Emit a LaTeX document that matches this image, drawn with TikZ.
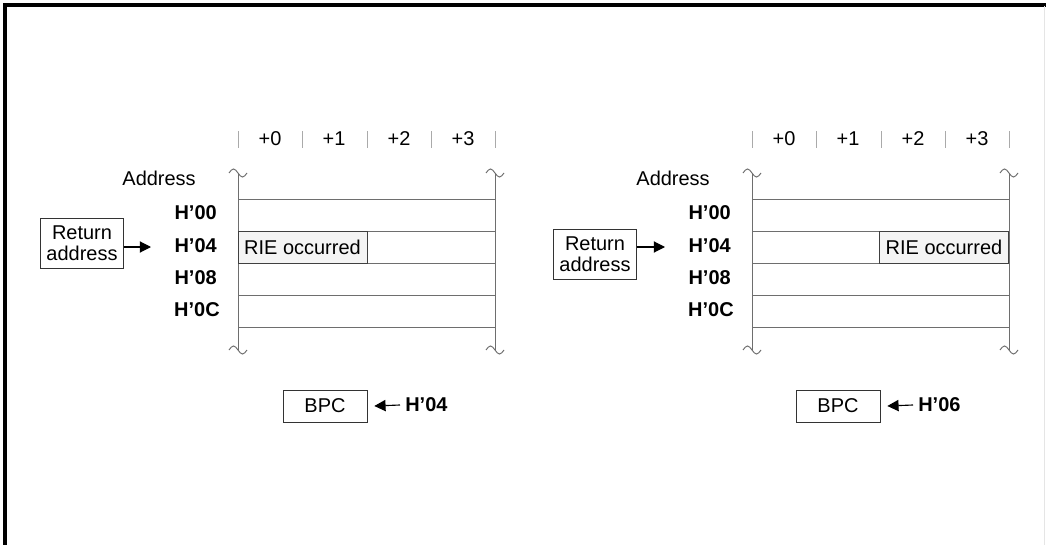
\documentclass[tikz,border=0pt]{standalone}
\usepackage{fontspec}
\setmainfont{Liberation Sans}
\usetikzlibrary{positioning,arrows.meta}
\definecolor{memline}{RGB}{110,110,110}
\definecolor{memtick}{RGB}{170,170,170}
\definecolor{riefill}{RGB}{244,244,244}

\begin{document}
\begin{tikzpicture}[
  x=0.025cm, y=-0.025cm,
  font=\fontsize{14.2pt}{15pt}\selectfont,
  addr/.style={anchor=east, inner sep=0pt, font=\fontsize{14.2pt}{15pt}\selectfont\bfseries},
  riebox/.style={draw=black!75, fill=riefill, minimum width=3.225cm, minimum height=0.8cm, inner sep=0pt},
  retbox/.style={draw=black!80, align=center, minimum width=2.075cm, minimum height=1.25cm, inner sep=1pt},
  bpcbox/.style={draw=black!80, minimum width=2.1cm, minimum height=0.8cm, inner sep=0pt},
  ptr/.style={-{Triangle[length=8pt,width=8pt]}, line width=0.8pt},
  memtilde/.pic={\draw[memline, line width=0.7pt] (-9,0) sin (-4.5,-4) cos (0,0) sin (4.5,4) cos (9,0);},
]
\useasboundingbox (0,0) rectangle (1046,545);
% frame
\draw[line width=2.2pt] (5,545) -- (5,5) -- (1046,5);
\draw[black!10, line width=0.6pt] (1044,6) -- (1044,545);

% memory columns
\foreach \ox in {0,514} {
  \begin{scope}[xshift=\ox*0.025cm]
    \foreach \tx in {238,302,367,431,495}
      \draw[memtick, line width=0.7pt] (\tx,131) -- (\tx,148);
    \node at (270,139) {+0};
    \node at (334,139) {+1};
    \node at (399,139) {+2};
    \node at (463,139) {+3};
    \foreach \hy in {199,231,263,295,327}
      \draw[memline, line width=0.7pt] (238,\hy) -- (495,\hy);
    \draw[memline, line width=0.7pt] (238,173) -- (238,350);
    \draw[memline, line width=0.7pt] (495,173) -- (495,350);
    \pic at (238,173) {memtilde};
    \pic at (495,173) {memtilde};
    \pic at (238,350) {memtilde};
    \pic at (495,350) {memtilde};
  \end{scope}
}

% left: exception at H'04
\node[anchor=east, inner sep=0pt] (l-addr) at (196,178) {Address};
\node[addr] (l-h00) at (217,213) {H’00};
\node[addr] (l-h04) at (217,246) {H’04};
\node[addr] (l-h08) at (217,278) {H’08};
\node[addr] (l-h0c) at (220,310) {H’0C};
\node[retbox] (l-ret) at (82,243) {Return\\address};
\coordinate (l-in) at (151,247);
\draw[ptr] (l-in -| l-ret.east) -- (l-in);
\node[riebox] (l-rie) at (302.5,247) {RIE occurred};
\node[bpcbox] (l-bpc) at (325,406) {BPC};
\node[addr, anchor=west] (l-pc) at (405,405) {H’04};
\draw[ptr] (l-pc.west) ++(-5,0) -- ([xshift=5]l-bpc.east);

% right: exception at H'06
\node[anchor=east, inner sep=0pt] (r-addr) at (710,178) {Address};
\node[addr] (r-h00) at (731,213) {H’00};
\node[addr] (r-h04) at (731,246) {H’04};
\node[addr] (r-h08) at (731,278) {H’08};
\node[addr] (r-h0c) at (734,310) {H’0C};
\node[retbox] (r-ret) at (595,254) {Return\\address};
\coordinate (r-in) at (665,247);
\draw[ptr] (r-in -| r-ret.east) -- (r-in);
\node[riebox] (r-rie) at (944,247) {RIE occurred};
\node[bpcbox] (r-bpc) at (838,406) {BPC};
\node[addr, anchor=west] (r-pc) at (918,405) {H’06};
\draw[ptr] (r-pc.west) ++(-5,0) -- ([xshift=5]r-bpc.east);
\end{tikzpicture}
\end{document}
